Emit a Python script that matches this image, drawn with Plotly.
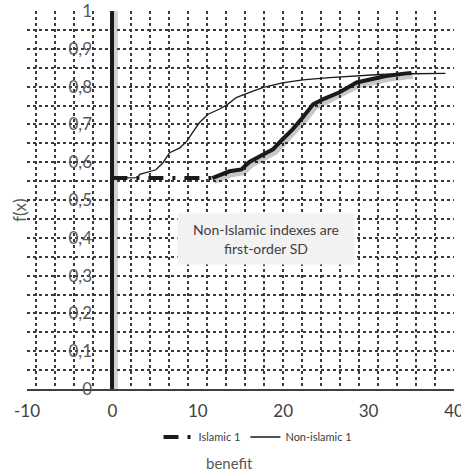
import plotly.graph_objects as go

# Cumulative distribution curves f(x) against benefit
non_islamic_x = [0, 2.9, 3.2, 5.1, 5.9, 6.7, 7.9, 8.7, 9.4, 10.2, 11.2, 12.5, 13.5,
                 14.5, 16.0, 17.6, 19.9, 22.3, 25.4, 28.6, 31.3, 35.2, 39.0]
non_islamic_y = [0.558, 0.559, 0.568, 0.580, 0.598, 0.625, 0.638, 0.655, 0.679, 0.705,
                 0.727, 0.740, 0.753, 0.771, 0.784, 0.797, 0.810, 0.818, 0.824, 0.829,
                 0.832, 0.834, 0.835]

islamic_x = [0, 11.7, 12.5, 13.7, 15.1, 16.0, 17.6, 18.8, 19.9, 21.1, 22.3, 23.5,
             24.7, 26.6, 28.6, 30.5, 32.0, 34.4, 35.0]
islamic_y = [0.558, 0.558, 0.565, 0.576, 0.581, 0.600, 0.620, 0.634, 0.660, 0.687,
             0.719, 0.753, 0.767, 0.785, 0.811, 0.820, 0.828, 0.835, 0.836]

x_ticks = [-10, 0, 10, 20, 30, 40]
x_labels = ["-10", "0", "10", "20", "30", "40"]
y_grid = [round(i * 0.05, 2) for i in range(21)]
y_labels = [("0" if v == 0 else "1" if v == 1 else f"{v:.1f}".replace(".", ","))
            if i % 2 == 0 else "" for i, v in enumerate(y_grid)]

X_RANGE = [-10, 40]
Y_RANGE = [0, 1]
W, H = 461, 473
M = dict(l=27, r=7, t=11, b=84)
plot_w = W - M["l"] - M["r"]
plot_h = H - M["t"] - M["b"]

# drop shadow offset (pixels) for the thick curve
sdx, sdy = 1.5, 2.5
dx = sdx * (X_RANGE[1] - X_RANGE[0]) / plot_w
dy = sdy * (Y_RANGE[1] - Y_RANGE[0]) / plot_h

FONT = "Lato"
INK = "#1a1a1a"

fig = go.Figure()

# shadow under the Islamic curve
fig.add_trace(go.Scatter(
    x=islamic_x[1:], y=islamic_y[1:], xaxis="x2", yaxis="y2", mode="lines",
    line=dict(color="rgba(0,0,0,0.22)", width=7), showlegend=False, hoverinfo="skip"))

# Islamic 1: flat stretch in long-dash-dot, rising part solid
fig.add_trace(go.Scatter(
    x=islamic_x[:2], y=islamic_y[:2], xaxis="x3", yaxis="y", mode="lines",
    name="Islamic 1", line=dict(color=INK, width=4, dash="15px,9px,3px,9px")))
fig.add_trace(go.Scatter(
    x=islamic_x[1:], y=islamic_y[1:], xaxis="x3", yaxis="y", mode="lines",
    name="Islamic 1", line=dict(color=INK, width=4), showlegend=False))

fig.add_trace(go.Scatter(
    x=non_islamic_x, y=non_islamic_y, xaxis="x3", yaxis="y", mode="lines",
    name="Non-islamic 1", line=dict(color=INK, width=1.3)))

grid = dict(griddash="dot", gridcolor="#3a3a3a", gridwidth=1.5)

fig.update_layout(
    width=W, height=H, margin=M,
    paper_bgcolor="white", plot_bgcolor="white",
    font=dict(family=FONT, color="#595959"),
    xaxis=dict(range=X_RANGE, tickvals=x_ticks, ticktext=x_labels, showgrid=False,
               zeroline=False, showline=True, linecolor="#3f3f3f", linewidth=1.5,
               ticks="", tickfont=dict(size=17, color="#404040"), anchor="y",
               ticklabelstandoff=6, ticklabeloverflow="allow", automargin=False),
    yaxis=dict(range=Y_RANGE, tickvals=y_grid, ticktext=y_labels, zeroline=False,
               showgrid=True, **grid, showline=True, linecolor=INK, linewidth=4,
               anchor="free", position=(0 - X_RANGE[0]) / (X_RANGE[1] - X_RANGE[0]),
               ticks="", tickfont=dict(size=17, color="#595959"),
               ticklabelstandoff=15, ticklabeloverflow="allow", automargin=False),
    xaxis2=dict(range=[X_RANGE[0] - dx, X_RANGE[1] - dx], overlaying="x", anchor="y2",
                visible=False),
    yaxis2=dict(range=[Y_RANGE[0] + dy, Y_RANGE[1] + dy], overlaying="y", anchor="x2",
                visible=False),
    xaxis3=dict(range=X_RANGE, overlaying="x", anchor="y", tick0=0,
                dtick=(X_RANGE[1] - 0) / 18, showgrid=True, **grid, zeroline=False,
                showticklabels=False, ticks="", showline=False),
    legend=dict(orientation="h", x=0.541, xanchor="center", y=-0.127, yanchor="middle",
                font=dict(size=11, color="#404040"), bgcolor="rgba(0,0,0,0)"),
    showlegend=True,
)

# soft shadow beside the vertical axis line at x = 0
fig.add_shape(type="line", xref="x", yref="paper", xsizemode="pixel", xanchor=0,
              x0=3.5, x1=3.5, y0=0, y1=1, layer="between",
              line=dict(color="rgba(0,0,0,0.18)", width=4))

fig.add_annotation(x=18.0, y=0.397, xref="x", yref="y",
                   text="Non-Islamic indexes are<br>first-order SD", showarrow=False,
                   font=dict(size=14, color="#404040", family=FONT),
                   bgcolor="#f2f2f2", width=170, height=44, borderpad=3)

fig.add_annotation(x=(229 - M["l"]) / plot_w, y=(M["t"] + plot_h - 463) / plot_h,
                   xref="paper", yref="paper", text="benefit", showarrow=False,
                   font=dict(size=15, color="#595959"), xanchor="center", yanchor="middle")
fig.add_annotation(x=(19 - M["l"]) / plot_w, y=(M["t"] + plot_h - 210) / plot_h,
                   xref="paper", yref="paper", text="f(x)", showarrow=False, textangle=-90,
                   font=dict(size=17, color="#595959"), xanchor="center", yanchor="middle")

fig.write_html("out.html")
